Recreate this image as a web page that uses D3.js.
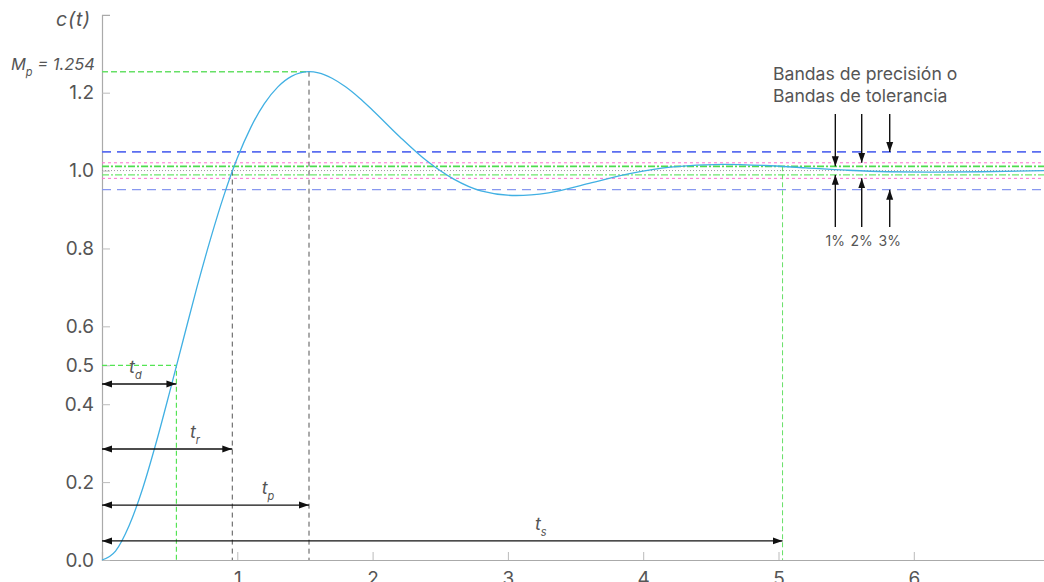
<!DOCTYPE html>
<html>
<head>
<meta charset="utf-8">
<script src="https://cdn.jsdelivr.net/npm/d3@7"></script>
<style>
  body { margin: 0; background: #fff; }
  svg { display: block; font-family: Inter, "Noto Sans", sans-serif; }
</style>
</head>
<body>
<svg id="chart" width="1044" height="582"></svg>
<script>
// step response
const times = [0, 0.1, 0.2, 0.3, 0.4, 0.5, 0.6, 0.7, 0.8, 0.9, 1.0, 1.1, 1.2, 1.3, 1.4, 1.53,
  1.6, 1.7, 1.8, 1.9, 2.0, 2.2, 2.4, 2.6, 2.8, 3.06, 3.3, 3.6, 3.9, 4.2, 4.59, 4.9, 5.2,
  5.5, 5.8, 6.12, 6.5, 7.0];
const response = [0, 0.023, 0.088, 0.183, 0.301, 0.431, 0.565, 0.698, 0.822, 0.935, 1.032,
  1.111, 1.172, 1.215, 1.242, 1.254, 1.251, 1.237, 1.215, 1.187, 1.155, 1.087, 1.025, 0.978,
  0.948, 0.936, 0.943, 0.967, 0.992, 1.009, 1.016, 1.013, 1.007, 1.001, 0.997, 0.996, 0.997, 1.0];

const xTicks = [1, 2, 3, 4, 5, 6];
const yTicks = [0, 0.2, 0.4, 0.5, 0.6, 0.8, 1.0, 1.2];

// tolerance bands
const bandNames = ["1%", "2%", "3%"];
const bandUpper = [1.011, 1.02, 1.048];
const bandLower = [0.989, 0.98, 0.951];
const bandArrowT = [5.42, 5.615, 5.822];

// characteristic times
const timeSubs = ["d", "r", "p", "s"];
const timeValues = [0.55, 0.963, 1.53, 5.03];
const arrowLevels = [0.452, 0.285, 0.141, 0.049];
const labelAt = [0.2, 0.65, 1.18, 3.2];
const peakValue = 1.254;
const halfValue = 0.5;

const svg = d3.select("#chart");
const x = d3.scaleLinear().domain([0, 7]).range([102, 102 + 7 * 135.3]);
const y = d3.scaleLinear().domain([0, 1.4]).range([560, 14.8]);
const textCol = "#555";

const defs = svg.append("defs");
defs.append("marker")
  .attr("id", "head")
  .attr("viewBox", "0 -4 10 8")
  .attr("refX", 10).attr("refY", 0)
  .attr("markerWidth", 10).attr("markerHeight", 8)
  .attr("markerUnits", "userSpaceOnUse")
  .attr("orient", "auto-start-reverse")
  .append("path").attr("d", "M0,-3.5L10,0L0,3.5Z").attr("fill", "#111");

// axes
const xAxis = svg.append("g").attr("transform", `translate(0,${y(0)})`)
  .call(d3.axisBottom(x).tickValues(xTicks).tickSize(-8).tickPadding(12).tickFormat(d3.format("d")));
const yAxis = svg.append("g").attr("transform", `translate(${x(0)},0)`)
  .call(d3.axisLeft(y).tickValues(yTicks).tickSize(-8).tickPadding(8).tickFormat(d3.format(".1f")));
[xAxis, yAxis].forEach(g => {
  g.select(".domain").attr("stroke", "#aaa").attr("stroke-width", 1.2);
  g.selectAll(".tick line").attr("stroke", "#bbb");
  g.selectAll(".tick text").attr("fill", textCol).attr("font-size", 19).attr("font-family", "Inter");
});

// bands
const bandStyle = [
  { up: "#4fdc4f", lo: "#6fe86f", dash: "7,2,2,2", wu: 1.8, wl: 1.2 },
  { up: "#ff6fd0", lo: "#ff6fd0", dash: "3,3", wu: 1, wl: 1 },
  { up: "#5b6ef0", lo: "#8898f0", dash: "9,6", wu: 1.8, wl: 1.2 }
];
const bands = svg.append("g");
bandNames.forEach((n, i) => {
  const s = bandStyle[i];
  [[bandUpper[i], s.up, s.wu], [bandLower[i], s.lo, s.wl]].forEach(([v, c, w]) => {
    bands.append("line")
      .attr("x1", x(0)).attr("x2", x(7))
      .attr("y1", y(v)).attr("y2", y(v))
      .attr("stroke", c).attr("stroke-width", w).attr("stroke-dasharray", s.dash);
  });
});
bands.append("line")
  .attr("x1", x(0)).attr("x2", x(7)).attr("y1", y(1)).attr("y2", y(1))
  .attr("stroke", "#999").attr("stroke-dasharray", "1,2");

// guide lines
const guides = svg.append("g").attr("fill", "none");
guides.append("path")
  .attr("d", `M${x(0)},${y(halfValue)}H${x(timeValues[0])}V${y(0)}`)
  .attr("stroke", "#55e455").attr("stroke-width", 1.2).attr("stroke-dasharray", "5,3");
guides.append("path")
  .attr("d", `M${x(0)},${y(peakValue)}H${x(timeValues[2])}`)
  .attr("stroke", "#66e066").attr("stroke-width", 1.5).attr("stroke-dasharray", "6,3");
guides.append("line")
  .attr("x1", x(timeValues[1])).attr("x2", x(timeValues[1]))
  .attr("y1", y(1)).attr("y2", y(0))
  .attr("stroke", "#555").attr("stroke-dasharray", "5,4");
guides.append("line")
  .attr("x1", x(timeValues[2])).attr("x2", x(timeValues[2]))
  .attr("y1", y(peakValue)).attr("y2", y(0))
  .attr("stroke", "#555").attr("stroke-dasharray", "5,4");
guides.append("line")
  .attr("x1", x(timeValues[3])).attr("x2", x(timeValues[3]))
  .attr("y1", y(bandUpper[0])).attr("y2", y(0))
  .attr("stroke", "#66e066").attr("stroke-dasharray", "5,3");

// response curve
const line = d3.line().x((d, i) => x(times[i])).y(d => y(d)).curve(d3.curveMonotoneX);
svg.append("path")
  .datum(response)
  .attr("d", line)
  .attr("fill", "none")
  .attr("stroke", "#41b0e3")
  .attr("stroke-width", 1.3);

// time arrows
timeSubs.forEach((s, i) => {
  svg.append("line")
    .attr("x1", x(0)).attr("x2", x(timeValues[i]))
    .attr("y1", y(arrowLevels[i])).attr("y2", y(arrowLevels[i]))
    .attr("stroke", "#111").attr("stroke-width", 1.4)
    .attr("marker-start", "url(#head)").attr("marker-end", "url(#head)");
  const t = svg.append("text")
    .attr("x", x(labelAt[i])).attr("y", y(arrowLevels[i]) - 11)
    .attr("fill", textCol).attr("font-size", 18).attr("font-style", "italic");
  t.append("tspan").text("t");
  t.append("tspan").attr("dy", 6).attr("font-size", 11).text(s);
});

// band arrows
bandNames.forEach((n, i) => {
  svg.append("line")
    .attr("x1", x(bandArrowT[i])).attr("x2", x(bandArrowT[i]))
    .attr("y1", 114).attr("y2", y(bandUpper[i]))
    .attr("stroke", "#111").attr("stroke-width", 1.4).attr("marker-end", "url(#head)");
  svg.append("line")
    .attr("x1", x(bandArrowT[i])).attr("x2", x(bandArrowT[i]))
    .attr("y1", 227).attr("y2", y(bandLower[i]))
    .attr("stroke", "#111").attr("stroke-width", 1.4).attr("marker-end", "url(#head)");
  svg.append("text")
    .attr("x", x(bandArrowT[i])).attr("y", 246)
    .attr("text-anchor", "middle").attr("fill", textCol).attr("font-size", 14)
    .text(n);
});

svg.append("text")
  .attr("x", 773).attr("y", 79.5)
  .attr("fill", textCol).attr("font-size", 17.6)
  .selectAll("tspan").data(["Bandas de precisión o", "Bandas de tolerancia"])
  .join("tspan").attr("x", 773).attr("dy", (d, i) => i ? 22.4 : 0).text(d => d);

// axis annotations
svg.append("text")
  .attr("x", 91).attr("y", 26).attr("text-anchor", "end")
  .attr("fill", textCol).attr("font-size", 19.5).attr("font-style", "italic")
  .attr("letter-spacing", 0.8)
  .text("c(t)");
const mp = svg.append("text")
  .attr("x", 95).attr("y", 69.5).attr("text-anchor", "end")
  .attr("fill", textCol).attr("font-size", 16.5).attr("font-style", "italic");
mp.append("tspan").text("M");
mp.append("tspan").attr("dy", 6).attr("font-size", 11).text("p");
mp.append("tspan").attr("dy", -6).text(" = " + peakValue);
</script>
</body>
</html>
